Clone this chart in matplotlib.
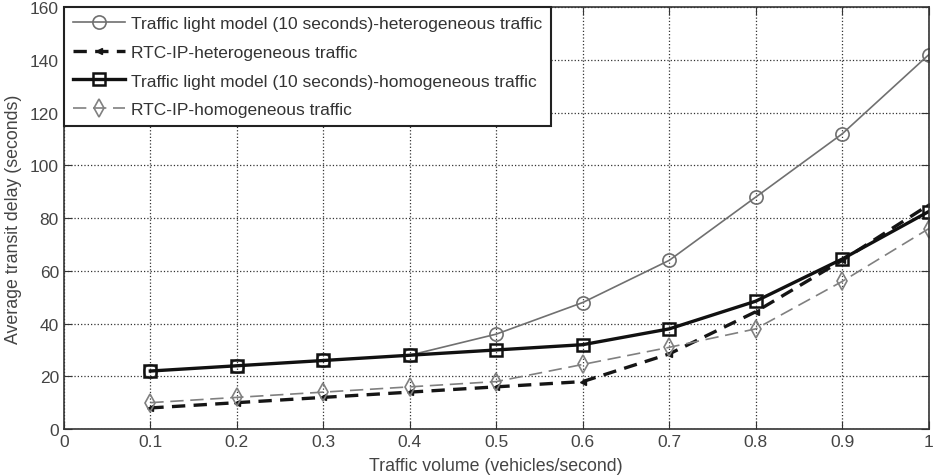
import matplotlib
matplotlib.use("Agg")
import matplotlib.pyplot as plt

plt.rcParams['font.family'] = ['Liberation Sans', 'DejaVu Sans']

x = [0.1, 0.2, 0.3, 0.4, 0.5, 0.6, 0.7, 0.8, 0.9, 1.0]
tl_hetero = [22, 24, 26, 28, 36, 48, 64, 88, 112, 142]
rtc_hetero = [8, 10, 12, 14, 16, 18, 28.5, 44.5, 64, 85]
tl_homo = [22, 24, 26, 28, 30, 32, 38, 48.5, 64.5, 82.5]
rtc_homo = [10, 12, 14, 16, 18, 24.5, 31, 38, 56, 76]

labels = ["Traffic light model (10 seconds)-heterogeneous traffic",
          "RTC-IP-heterogeneous traffic",
          "Traffic light model (10 seconds)-homogeneous traffic",
          "RTC-IP-homogeneous traffic"]
xticks = [0, 0.1, 0.2, 0.3, 0.4, 0.5, 0.6, 0.7, 0.8, 0.9, 1]
xticklabels = ["0", "0.1", "0.2", "0.3", "0.4", "0.5", "0.6", "0.7", "0.8", "0.9", "1"]
yticks = [0, 20, 40, 60, 80, 100, 120, 140, 160]

fig = plt.figure(figsize=(9.39, 4.77), dpi=100)
ax = fig.add_axes([0.068, 0.0985, 0.921, 0.884])

ax.plot(x, tl_hetero, color='#707070', lw=1.2, marker='o', ms=9.5,
        mfc='none', mec='#707070', mew=1.2, label=labels[0])
ax.plot(x, rtc_hetero, color='#151515', lw=2.4, ls=(0, (4, 2.5)), marker='<', ms=4,
        mfc='#151515', mec='#151515', label=labels[1])
ax.plot(x, tl_homo, color='#111111', lw=2.4, marker='s', ms=9,
        mfc='none', mec='#111111', mew=1.8, label=labels[2])
ax.plot(x, rtc_homo, color='#808080', lw=1.2, ls=(0, (8, 4)), marker='d', ms=9,
        mfc='none', mec='#808080', mew=1.2, label=labels[3])

ax.set_xlim(0, 1)
ax.set_ylim(0, 160)
ax.set_xticks(xticks)
ax.set_xticklabels(xticklabels)
ax.set_yticks(yticks)
ax.tick_params(direction='in', length=6, labelsize=12.5, labelcolor='#444444',
               color='#333333', top=True, right=True)
ax.grid(True, ls=':', color='#333333', lw=0.9)
for s in ax.spines.values():
    s.set_color('#333333')
    s.set_linewidth(1.2)

ax.set_xlabel("Traffic volume (vehicles/second)", fontsize=12.8, color='#444444', labelpad=6)
ax.set_ylabel("Average transit delay (seconds)", fontsize=12.8, color='#444444', labelpad=6)

leg = ax.legend(loc='upper left', fontsize=12.5, frameon=True, fancybox=False,
                borderaxespad=0.0, handlelength=3.0, handletextpad=0.35,
                labelspacing=0.78, borderpad=0.5)
leg.get_frame().set_edgecolor('#222222')
leg.get_frame().set_linewidth(1.5)
leg.get_frame().set_alpha(1)
for t in leg.get_texts():
    t.set_color('#333333')

fig.savefig("out.png", dpi=100)
